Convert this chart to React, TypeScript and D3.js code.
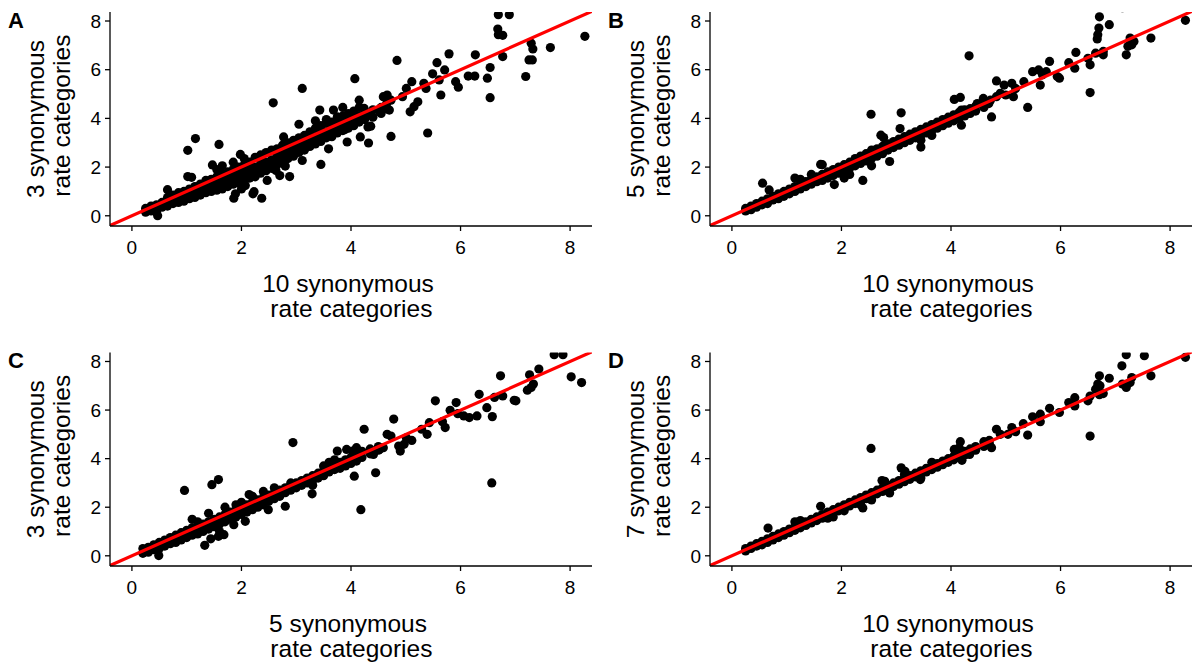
import React from "react";
import * as d3 from "d3";

// ---------- DATA ----------
const xTicks = [0, 2, 4, 6, 8];
const yTicks = [0, 2, 4, 6, 8];
const panelLetters = ["A", "B", "C", "D"];
const xTitles = [
  ["10 synonymous", " rate categories"],
  ["10 synonymous", " rate categories"],
  ["5 synonymous", " rate categories"],
  ["10 synonymous", " rate categories"],
];
const yTitles = [
  ["3 synonymous", " rate categories"],
  ["5 synonymous", " rate categories"],
  ["3 synonymous", " rate categories"],
  ["7 synonymous", " rate categories"],
];

// dense band near the diagonal: [x, [y values at that x]]
const bandA: [number, number[]][] = [
  [0.25, [0.15, 0.3]], [0.35, [0.2, 0.4]], [0.45, [0.15, 0.3, 0.45]], [0.55, [0.35, 0.55]],
  [0.65, [0.4, 0.6, 0.75]], [0.75, [0.5, 0.65, 0.85]], [0.85, [0.55, 0.7, 0.8, 0.95]], [0.95, [0.6, 0.8, 1.0]],
  [1.05, [0.7, 0.9, 1.1]], [1.15, [0.75, 0.9, 1.0, 1.2]], [1.25, [0.85, 1.1, 1.3]], [1.35, [0.95, 1.05, 1.15, 1.45]],
  [1.45, [1.0, 1.25, 1.5]], [1.55, [1.05, 1.2, 1.35, 1.6, 1.9]], [1.65, [1.1, 1.3, 1.45, 1.7, 2.05]], [1.75, [1.2, 1.35, 1.5, 1.8]],
  [1.85, [1.3, 1.45, 1.6, 1.9, 2.2]], [1.95, [1.35, 1.5, 1.7, 2.0]], [2.05, [1.45, 1.6, 1.75, 2.1, 2.35]], [2.15, [1.55, 1.75, 1.9, 2.2]],
  [2.25, [1.6, 1.8, 2.0, 2.4]], [2.35, [1.75, 1.9, 2.05, 2.25, 2.5]], [2.45, [1.85, 2.0, 2.2, 2.6]], [2.55, [1.95, 2.15, 2.3, 2.7]],
  [2.65, [2.1, 2.3, 2.45, 2.75]], [2.75, [2.2, 2.4, 2.55, 2.9]], [2.85, [2.35, 2.5, 2.65, 3.0]], [2.95, [2.45, 2.6, 2.8, 3.1]],
  [3.05, [2.6, 2.75, 2.9, 3.2]], [3.15, [2.7, 2.85, 3.0, 3.3]], [3.25, [2.85, 3.0, 3.15, 3.45]], [3.35, [2.95, 3.1, 3.25, 3.6, 3.9]],
  [3.45, [3.05, 3.2, 3.35, 3.7]], [3.55, [3.2, 3.45, 3.8, 3.95]], [3.65, [3.25, 3.4, 3.55, 3.85]], [3.75, [3.4, 3.55, 3.7, 4.0]],
  [3.85, [3.5, 3.65, 3.8, 4.1]], [3.95, [3.6, 3.75, 3.9, 4.2]], [4.05, [3.7, 3.85, 4.0, 4.3]], [4.15, [3.85, 4.1, 4.45]],
  [4.25, [3.95, 4.2]], [4.4, [4.05, 4.35]], [4.55, [4.2, 4.45]], [4.65, [4.4, 4.6]],
];
const outliersA: [number, number][] = [
  [6.69, 8.26], [6.89, 8.26], [6.68, 7.67], [6.69, 7.44], [6.77, 7.41], [8.27, 7.37], [7.29, 7.09], [7.32, 6.85],
  [7.64, 6.91], [7.25, 6.4], [7.31, 6.4], [7.19, 5.72], [6.77, 6.54], [6.54, 6.09], [6.49, 5.65], [6.54, 4.85],
  [6.27, 6.61], [6.14, 5.74], [6.26, 5.74], [5.79, 6.65], [5.91, 5.51], [5.96, 5.28], [5.57, 6.29], [5.71, 5.99],
  [5.49, 5.83], [5.61, 5.58], [5.64, 4.96], [4.84, 6.38], [5.37, 5.23], [5.33, 5.44], [5.4, 3.4], [5.11, 5.51],
  [5.01, 5.23], [5.22, 4.68], [5.15, 4.48], [5.08, 4.27], [4.94, 4.89], [4.59, 4.89], [4.66, 4.96], [4.73, 4.75],
  [4.7, 4.34], [4.73, 3.26], [4.07, 5.63], [4.15, 4.75], [4.24, 4.41], [4.36, 4.13], [4.52, 4.27], [4.32, 2.99],
  [4.17, 3.24], [4.31, 3.65], [4.36, 3.68], [3.93, 3.03], [3.89, 3.54], [3.82, 3.79], [3.75, 4.06], [3.85, 4.45],
  [3.68, 4.34], [3.43, 4.34], [3.59, 2.75], [3.45, 2.11], [3.11, 5.23], [3.05, 3.76], [3.11, 2.27], [2.77, 3.24],
  [2.88, 1.61], [2.8, 2.04], [2.63, 1.86], [2.7, 1.65], [2.58, 4.64], [2.47, 1.45], [2.37, 0.72], [2.23, 0.99],
  [2.21, 0.9], [1.98, 2.52], [1.86, 0.72], [1.89, 0.9], [2.07, 1.24], [2.0, 1.1], [1.59, 2.93], [1.47, 2.09],
  [1.16, 3.17], [1.02, 2.69], [1.02, 1.61], [1.09, 1.58], [0.65, 1.07], [0.47, 0.0],
];

const bandB: [number, number[]][] = [
  [0.25, [0.2, 0.3]], [0.35, [0.25, 0.4]], [0.45, [0.35, 0.5]], [0.55, [0.45, 0.6]], [0.65, [0.5, 0.7]],
  [0.75, [0.65, 0.8]], [0.85, [0.7, 0.9]], [0.95, [0.8, 1.0]], [1.05, [0.9, 1.1]], [1.15, [1.0, 1.2, 1.55]],
  [1.25, [1.1, 1.3, 1.5]], [1.35, [1.2, 1.4]], [1.45, [1.3, 1.5, 1.7]], [1.55, [1.4, 1.6]], [1.65, [1.45, 1.7, 2.1]],
  [1.75, [1.55, 1.8]], [1.85, [1.65, 1.9]], [1.95, [1.75, 2.0]], [2.05, [1.55, 1.85, 2.1]], [2.15, [1.7, 1.95, 2.2]],
  [2.25, [2.05, 2.35]], [2.35, [2.15, 2.45]], [2.45, [2.25, 2.55]], [2.55, [2.05, 2.35, 2.7]], [2.65, [2.45, 2.75]],
  [2.75, [2.55, 2.85]], [2.85, [2.7, 2.95]], [2.95, [2.8, 3.05]], [3.05, [2.9, 3.15]], [3.15, [3.0, 3.25]],
  [3.25, [3.1, 3.35]], [3.35, [3.2, 3.45]], [3.45, [3.1, 3.3, 3.55]], [3.55, [3.4, 3.65]], [3.65, [3.3, 3.5, 3.75]],
  [3.75, [3.6, 3.85]], [3.85, [3.7, 3.95]], [3.95, [3.8, 4.05]], [4.05, [3.9, 4.15]], [4.15, [4.0, 4.25]],
  [4.25, [4.1, 4.35]], [4.35, [4.2, 4.4]], [4.45, [4.3, 4.5]], [4.6, [4.45, 4.65]],
];
const outliersB: [number, number][] = [
  [6.71, 8.17], [6.7, 7.71], [6.68, 7.44], [6.67, 7.26], [6.89, 7.85], [7.13, 8.55], [8.28, 8.03], [7.65, 7.3],
  [7.27, 7.3], [7.3, 7.02], [7.23, 6.96], [7.34, 7.16], [7.2, 6.61], [6.78, 6.75], [6.78, 6.61], [6.64, 6.68],
  [6.54, 6.2], [6.5, 6.47], [6.54, 5.06], [6.28, 6.71], [6.15, 6.29], [6.26, 6.06], [5.8, 6.34], [5.94, 5.72],
  [5.98, 5.65], [5.49, 5.92], [5.6, 5.99], [5.67, 5.79], [5.74, 5.92], [5.63, 5.37], [5.33, 5.51], [5.4, 4.45],
  [4.83, 5.54], [4.97, 5.37], [5.11, 5.44], [5.18, 5.23], [5.14, 4.89], [5.0, 4.96], [4.9, 5.03], [4.83, 4.89],
  [4.72, 4.75], [4.69, 4.61], [4.59, 4.82], [4.48, 4.61], [4.74, 4.06], [4.33, 6.57], [4.06, 4.78], [4.17, 4.86],
  [4.19, 4.34], [4.3, 4.2], [4.13, 4.06], [4.19, 3.72], [3.09, 4.23], [2.54, 4.17], [3.07, 3.58], [3.45, 2.82],
  [2.88, 2.23], [2.72, 3.31], [2.77, 3.21], [2.39, 1.45], [0.56, 1.34], [0.68, 1.06], [1.62, 2.11], [1.87, 1.28],
];

const bandC: [number, number[]][] = [
  [0.2, [0.1, 0.3]], [0.3, [0.15, 0.35]], [0.4, [0.25, 0.45]], [0.5, [0.3, 0.55]], [0.6, [0.4, 0.65]],
  [0.7, [0.5, 0.75]], [0.8, [0.55, 0.85]], [0.9, [0.65, 0.95]], [1.0, [0.75, 1.05]], [1.1, [0.85, 1.15, 1.5]],
  [1.2, [0.9, 1.2, 1.4]], [1.3, [1.0, 1.3]], [1.4, [1.1, 1.4, 1.75]], [1.5, [1.2, 1.5]], [1.6, [1.0, 1.3, 1.6]],
  [1.7, [1.4, 1.7, 2.0]], [1.8, [1.5, 1.8]], [1.9, [1.6, 1.9, 2.1]], [2.0, [1.7, 2.0, 2.2]], [2.1, [1.8, 2.1]],
  [2.2, [1.9, 2.2, 2.45]], [2.3, [2.0, 2.3]], [2.4, [2.1, 2.4, 2.65]], [2.5, [2.25, 2.5]], [2.6, [2.35, 2.6, 2.8]],
  [2.7, [2.45, 2.7]], [2.8, [2.6, 2.8]], [2.9, [2.7, 2.9, 3.0]], [3.0, [2.8, 3.0]], [3.1, [2.9, 3.1]],
  [3.2, [3.0, 3.2]], [3.3, [2.9, 3.1, 3.3]], [3.4, [3.2, 3.4]], [3.5, [3.3, 3.5, 3.7]], [3.6, [3.45, 3.65, 3.85]],
  [3.7, [3.55, 3.75, 3.95]], [3.8, [3.6, 3.85]], [3.9, [3.7, 3.95]], [4.0, [3.8, 4.05]], [4.1, [3.9, 4.2]],
  [4.2, [4.05, 4.3]], [4.35, [4.2, 4.4]], [4.5, [4.35, 4.5]],
];
const outliersC: [number, number][] = [
  [7.71, 8.28], [7.87, 8.28], [8.02, 7.37], [8.21, 7.13], [7.43, 7.69], [7.26, 7.45], [6.73, 7.41], [7.33, 7.07],
  [7.29, 6.93], [7.22, 6.82], [6.98, 6.4], [7.01, 6.38], [6.77, 6.58], [6.62, 6.52], [6.48, 6.1], [6.58, 5.73],
  [6.57, 3.0], [6.34, 6.65], [6.3, 5.76], [6.16, 5.69], [6.06, 5.76], [5.92, 6.31], [5.81, 5.99], [5.95, 5.85],
  [5.54, 6.38], [5.67, 5.52], [5.72, 5.28], [5.39, 5.0], [5.43, 5.48], [5.29, 5.21], [5.01, 4.86], [5.11, 4.75],
  [4.87, 4.52], [4.9, 4.31], [4.97, 4.59], [4.78, 5.63], [4.66, 5.0], [4.73, 4.93], [4.59, 4.45], [4.52, 4.38],
  [4.41, 4.17], [4.24, 5.21], [4.45, 3.42], [4.18, 1.9], [4.06, 3.28], [4.1, 4.45], [4.03, 4.31], [3.92, 4.38],
  [3.75, 4.31], [3.89, 3.9], [2.94, 4.66], [3.29, 2.55], [2.8, 2.04], [1.58, 3.14], [1.46, 2.93], [0.96, 2.69],
  [1.33, 0.43], [0.49, 0.01], [1.68, 0.87], [1.58, 0.8], [1.44, 0.7], [2.07, 1.42], [1.86, 1.28], [2.49, 1.9],
  [2.21, 2.38], [2.14, 2.52],
];

const bandD: [number, number[]][] = [
  [0.25, [0.2, 0.3]], [0.35, [0.3, 0.4]], [0.45, [0.4, 0.5]], [0.55, [0.45, 0.6]], [0.65, [0.55, 0.7]],
  [0.75, [0.65, 0.8]], [0.85, [0.75, 0.9]], [0.95, [0.85, 1.0]], [1.05, [0.95, 1.1]], [1.15, [1.05, 1.2, 1.4]],
  [1.25, [1.15, 1.3, 1.45]], [1.35, [1.25, 1.4]], [1.45, [1.35, 1.5]], [1.55, [1.45, 1.6]], [1.65, [1.55, 1.7]],
  [1.75, [1.55, 1.65, 1.8]], [1.85, [1.6, 1.75, 1.9]], [1.95, [1.85, 2.0]], [2.05, [1.85, 1.95, 2.1]], [2.15, [2.05, 2.2]],
  [2.25, [2.15, 2.3]], [2.35, [2.1, 2.25, 2.4]], [2.45, [2.35, 2.5]], [2.55, [2.3, 2.45, 2.6]], [2.65, [2.55, 2.7]],
  [2.75, [2.65, 2.8]], [2.85, [2.75, 2.9]], [2.95, [2.85, 3.0]], [3.05, [2.95, 3.1]], [3.15, [3.05, 3.2, 3.35]],
  [3.25, [3.15, 3.3]], [3.35, [3.25, 3.4]], [3.45, [3.2, 3.35, 3.5]], [3.55, [3.45, 3.6]], [3.65, [3.55, 3.7, 3.85]],
  [3.75, [3.65, 3.8]], [3.85, [3.75, 3.9]], [3.95, [3.85, 4.0]], [4.05, [3.95, 4.1]], [4.15, [4.05, 4.2, 4.45]],
  [4.25, [4.15, 4.3]], [4.35, [4.25, 4.4]], [4.45, [4.35, 4.5]], [4.6, [4.5, 4.7]], [4.7, [4.6, 4.75]],
];
const outliersD: [number, number][] = [
  [7.2, 8.28], [7.53, 8.24], [7.12, 7.82], [8.28, 8.17], [7.65, 7.41], [6.89, 7.31], [6.71, 7.41], [6.68, 7.07],
  [6.72, 7.0], [6.64, 6.86], [6.78, 6.68], [6.71, 6.63], [7.2, 6.93], [7.27, 7.13], [7.3, 7.34], [7.13, 7.07],
  [6.54, 6.58], [6.5, 6.38], [6.54, 4.93], [6.26, 6.51], [6.26, 6.17], [6.15, 6.31], [5.98, 5.9], [5.8, 6.07],
  [5.63, 5.83], [5.63, 5.52], [5.49, 5.72], [5.4, 4.97], [5.32, 5.44], [4.83, 5.21], [5.11, 5.28], [5.04, 5.0],
  [4.9, 5.0], [5.18, 5.11], [4.74, 4.45], [4.17, 4.7], [4.06, 4.38], [4.17, 4.17], [4.2, 3.93], [4.34, 4.17],
  [2.54, 4.42], [3.09, 3.62], [3.16, 3.48], [2.74, 3.1], [2.79, 3.07], [2.88, 2.59], [3.44, 3.14], [2.39, 1.97],
  [1.62, 2.04], [0.66, 1.14],
];

const bands = [bandA, bandB, bandC, bandD];
const outliers = [outliersA, outliersB, outliersC, outliersD];

// ---------- LAYOUT ----------
const W = 1193;
const H = 668;
const colLeft = [110, 710];
const colRight = [592, 1192];
const rowTop = [12, 352.5];
const rowBottom = [226, 566];
const FONT = "'Liberation Sans', Arial, Helvetica, sans-serif";

function Panel({ idx }: { idx: number }) {
  const col = idx % 2;
  const row = Math.floor(idx / 2);
  const L = colLeft[col], R = colRight[col], T = rowTop[row], B = rowBottom[row];
  const x = d3.scaleLinear().domain([-0.4, 8.4]).range([L, R]);
  const y = d3.scaleLinear().domain([-0.42, 8.37]).range([B, T]);
  const pts: [number, number][] = [
    ...bands[idx].flatMap(([bx, ys]) => ys.map((yy) => [bx, yy] as [number, number])),
    ...outliers[idx],
  ];
  const clipId = `clip-${idx}`;
  const line = d3.line<number>().x((d) => x(d)).y((d) => y(d));
  const cx = (L + R) / 2;
  const cy = (T + B) / 2;
  return (
    <g>
      <defs>
        <clipPath id={clipId}>
          <rect x={L} y={T} width={R - L} height={B - T} />
        </clipPath>
      </defs>
      <g clipPath={`url(#${clipId})`}>
        {pts.map((p, i) => (
          <circle key={i} cx={x(p[0])} cy={y(p[1])} r={4.6} fill="#000" />
        ))}
        <path d={line([-0.5, 8.5]) || ""} stroke="#ff0000" strokeWidth={3.2} fill="none" />
      </g>
      {/* axes */}
      <line x1={L} x2={R} y1={B} y2={B} stroke="#000" strokeWidth={1.3} />
      <line x1={L} x2={L} y1={T} y2={B} stroke="#000" strokeWidth={1.3} />
      {xTicks.map((t) => (
        <g key={"x" + t}>
          <line x1={x(t)} x2={x(t)} y1={B} y2={B + 5} stroke="#000" strokeWidth={1.3} />
          <text x={x(t)} y={B + 27.5} textAnchor="middle" fontSize={19} fontFamily={FONT} fill="#000">
            {t}
          </text>
        </g>
      ))}
      {yTicks.map((t) => (
        <g key={"y" + t}>
          <line x1={L - 5} x2={L} y1={y(t)} y2={y(t)} stroke="#000" strokeWidth={1.3} />
          <text x={L - 9} y={y(t) + 6.8} textAnchor="end" fontSize={19} fontFamily={FONT} fill="#000">
            {t}
          </text>
        </g>
      ))}
      {/* x title */}
      {xTitles[idx].map((s, i) => (
        <text
          key={"xt" + i}
          x={cx - 3}
          y={B + 66 + i * 25}
          textAnchor="middle"
          fontSize={24.5}
          fontFamily={FONT}
          fill="#000"
          style={{ whiteSpace: "pre" }}
        >
          {s}
        </text>
      ))}
      {/* y title */}
      {yTitles[idx].map((s, i) => (
        <text
          key={"yt" + i}
          transform={`translate(${L - 66.5 + i * 26},${cy}) rotate(-90)`}
          textAnchor="middle"
          fontSize={24.5}
          fontFamily={FONT}
          fill="#000"
          style={{ whiteSpace: "pre" }}
        >
          {s}
        </text>
      ))}
      <text
        x={L - 102}
        y={T + 15.5}
        fontSize={22}
        fontWeight="bold"
        fontFamily={FONT}
        fill="#000"
      >
        {panelLetters[idx]}
      </text>
    </g>
  );
}

export default function App() {
  return (
    <svg
      width={W}
      height={H}
      viewBox={`0 0 ${W} ${H}`}
      style={{ position: "absolute", left: 0, top: 0, background: "#fff" }}
    >
      <rect x={0} y={0} width={W} height={H} fill="#fff" />
      {[0, 1, 2, 3].map((i) => (
        <Panel key={i} idx={i} />
      ))}
    </svg>
  );
}
